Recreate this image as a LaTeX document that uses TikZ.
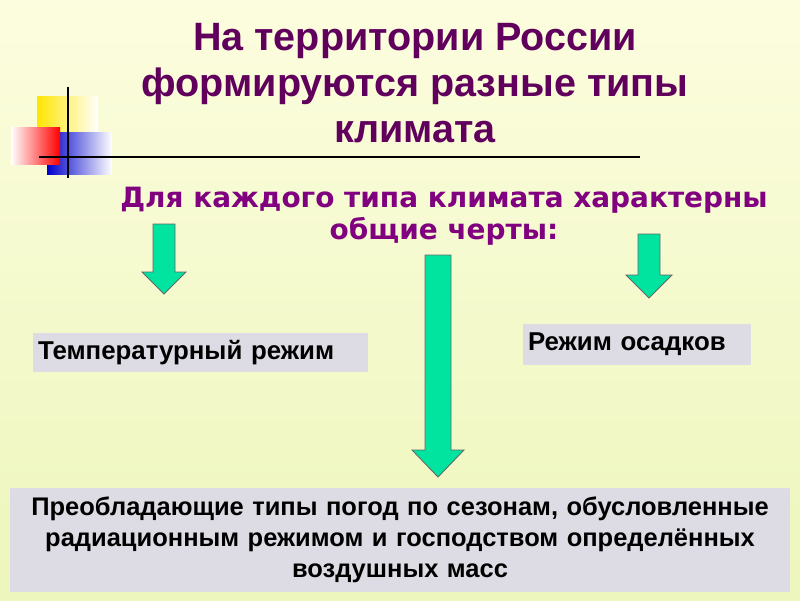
\documentclass[tikz,border=0pt]{standalone}
\usepackage{fontspec}
\setmainfont{Liberation Sans}
\newfontfamily\subfont{DejaVu Sans}
\usetikzlibrary{positioning}
\definecolor{titlepurple}{RGB}{96,0,92}
\definecolor{subpurple}{RGB}{128,0,128}
\definecolor{boxgray}{RGB}{221,219,227}
\definecolor{arrowgreen}{RGB}{0,228,160}
\definecolor{bgtop}{RGB}{252,253,222}
\definecolor{bgbottom}{RGB}{237,246,188}

\tikzset{
  titletext/.style={text=titlepurple, align=center, inner sep=0pt,
    font=\bfseries\fontsize{22.5}{26.3}\selectfont},
  subtext/.style={text=subpurple, align=center, inner sep=0pt,
    font=\subfont\bfseries\fontsize{15.9}{18.2}\selectfont},
  graybox/.style={fill=boxgray, inner ysep=0pt, inner xsep=0.1cm, align=left,
    font=\bfseries\fontsize{14.7}{16}\selectfont},
  blockarrow/.style={fill=arrowgreen, draw=black!60, line width=0.5pt},
}

\newcommand{\downblock}[6]{% x, top, head, tip, half shaft, half head
  \path[blockarrow] (#1-#5,#2) -- (#1+#5,#2) -- (#1+#5,#3) -- (#1+#6,#3)
    -- (#1,#4) -- (#1-#6,#3) -- (#1-#5,#3) -- cycle;}

\begin{document}
\begin{tikzpicture}[x=0.02cm,y=-0.02cm]
  \shade[top color=bgtop,bottom color=bgbottom] (0,0) rectangle (800,600);
  \useasboundingbox (0,0) rectangle (800,600);

  % corner ornament
  \shade[left color=yellow!80!orange, right color=white] (37,96) rectangle (98,160);
  \shade[left color=blue!80!black, right color=white] (47,132) rectangle (112,174);
  \shade[left color=white, right color=red] (11,127) rectangle (60,164);
  \draw[line width=1.1pt] (68,87) -- (68,178);
  \draw[line width=1.1pt] (39,157) -- (640,157);

  \node[titletext] (title) at (415,83)
    {На территории России\\формируются разные типы\\климата};
  \node[subtext] (subtitle) at (444,216)
    {Для каждого типа климата характерны\\общие черты:};

  \node[graybox, minimum width=6.7cm, minimum height=0.78cm, text width=6.5cm]
    (temp) at (200.5,352.5) {Температурный режим};
  \node[graybox, minimum width=4.56cm, minimum height=0.82cm, text width=4.36cm]
    (precip) at (637,344.5) {\raisebox{-3pt}{Режим осадков}};
  \node[graybox, minimum width=15.6cm, minimum height=2.08cm, text width=15.4cm,
    align=center, font=\bfseries\fontsize{14.5}{17.6}\selectfont]
    (weather) at (400,540) {Преобладающие типы погод по сезонам, обусловленные\\
    радиационным режимом и господством определённых\\воздушных масс};

  \downblock{164}{224}{272}{294}{11}{22}
  \downblock{649}{234}{275}{298}{11}{23}
  \downblock{438}{255}{450}{477}{13}{26}
\end{tikzpicture}
\end{document}
